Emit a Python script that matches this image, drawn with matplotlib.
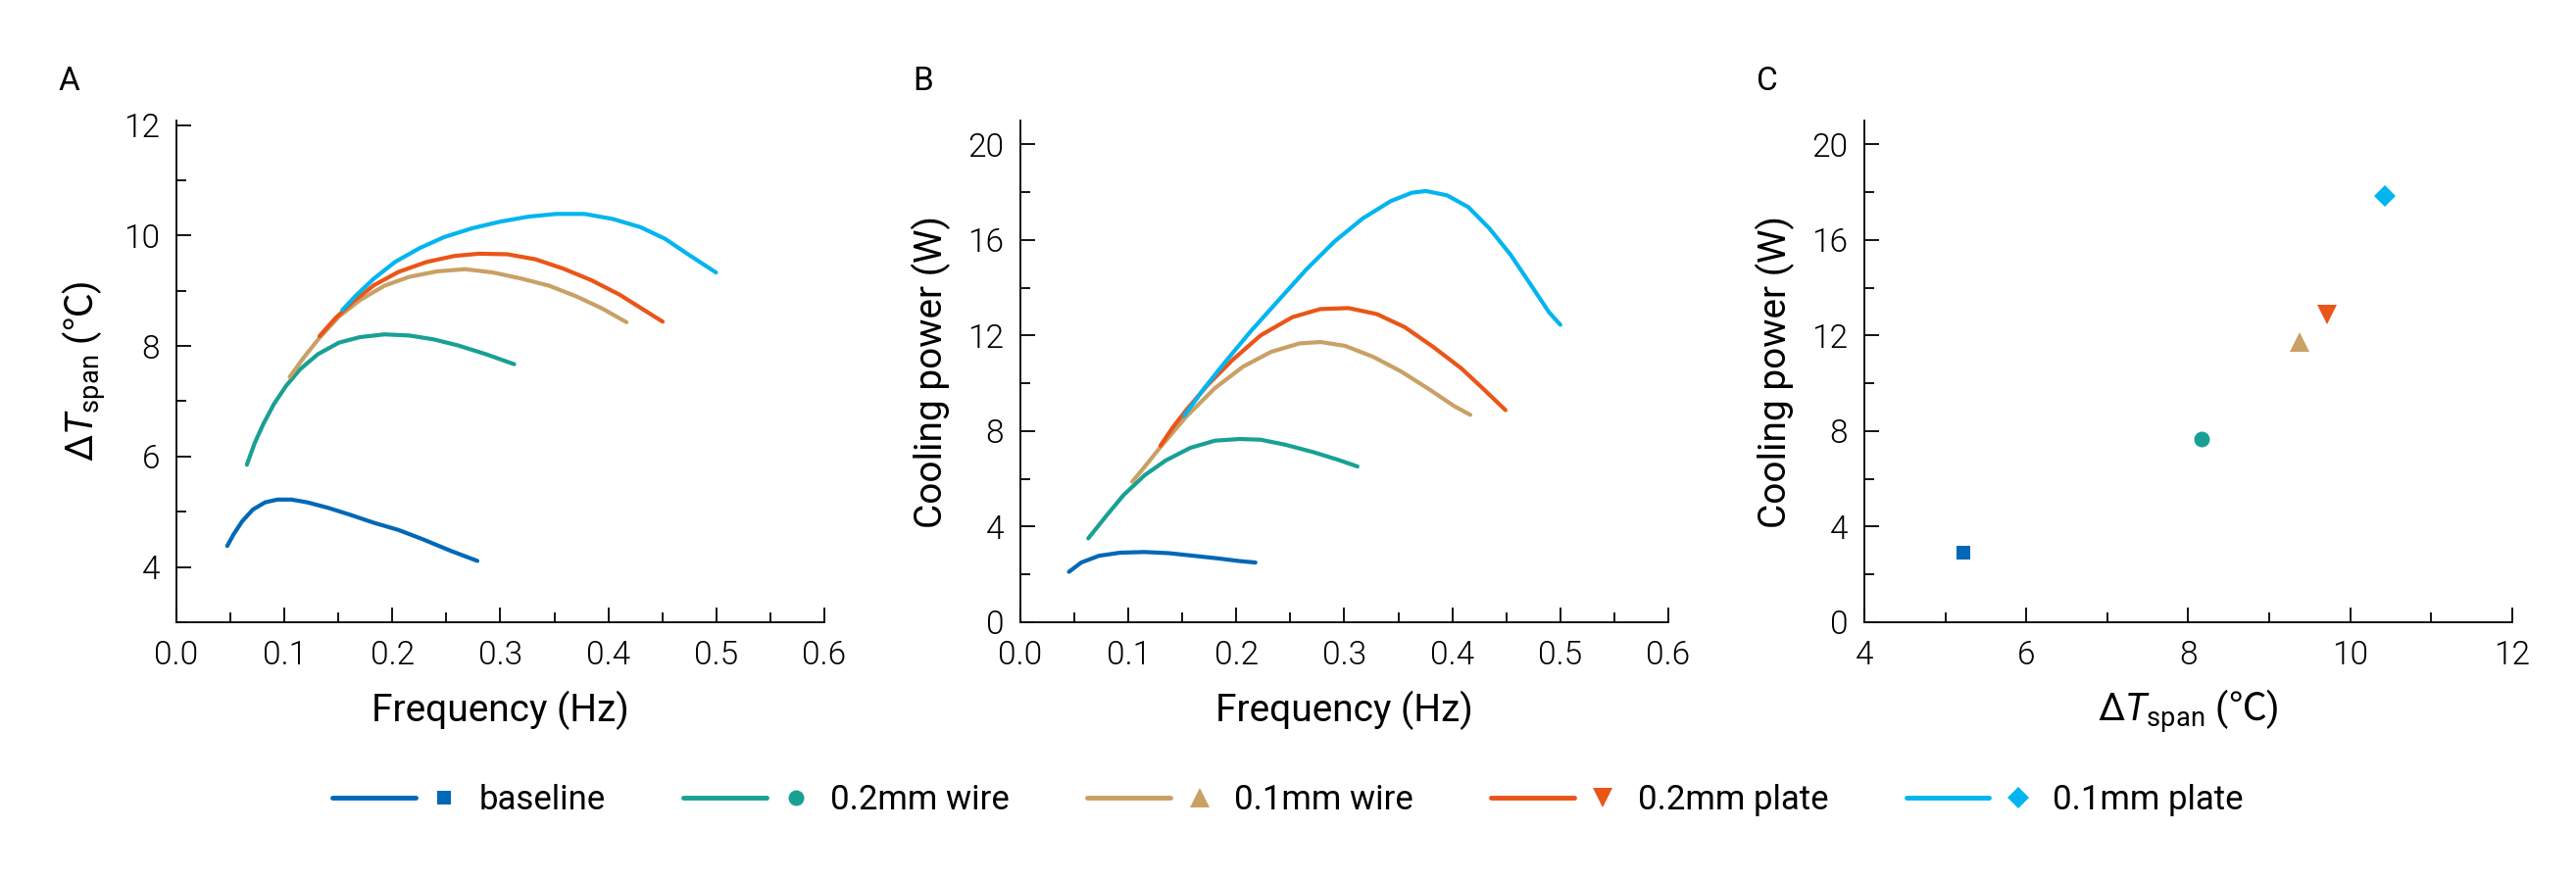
import numpy as np
import matplotlib
matplotlib.use("Agg")
import matplotlib.pyplot as plt
from matplotlib.lines import Line2D
from matplotlib.legend_handler import HandlerBase
from matplotlib.ticker import MultipleLocator

plt.rcParams['font.family'] = ['Roboto', 'DejaVu Sans']
plt.rcParams['mathtext.fontset'] = 'custom'
plt.rcParams['mathtext.rm'] = 'Roboto'
plt.rcParams['mathtext.it'] = 'Roboto:italic'
plt.rcParams['mathtext.sf'] = 'Noto Sans CJK JP'

# series names and colours
names = ['baseline', '0.2mm wire', '0.1mm wire', '0.2mm plate', '0.1mm plate']
colors = ['#0068B7', '#19A094', '#C9A065', '#EA5518', '#02B5EE']
markers = ['s', 'o', '^', 'v', 'D']
msizes = [9.8, 11.5, 14.5, 14.5, 10.8]

# panel A: temperature span vs frequency
freq_a = [
    [0.047, 0.0529, 0.061, 0.0708, 0.0821, 0.0935, 0.1065, 0.1211, 0.1406, 0.1601, 0.1829,
     0.2056, 0.2284, 0.2543, 0.2787],
    [0.0652, 0.0724, 0.0805, 0.0903, 0.1016, 0.1146, 0.1309, 0.1504, 0.1699, 0.1926, 0.2154,
     0.2381, 0.2608, 0.2868, 0.3128],
    [0.1049, 0.1179, 0.1325, 0.1504, 0.1699, 0.1926, 0.2154, 0.2413, 0.2673, 0.2933, 0.3193,
     0.3453, 0.3713, 0.3941, 0.4168],
    [0.1325, 0.1471, 0.1634, 0.1829, 0.2056, 0.2316, 0.2576, 0.2803, 0.3063, 0.3323, 0.3583,
     0.3843, 0.4103, 0.4331, 0.4503],
    [0.1536, 0.1666, 0.1829, 0.2024, 0.2251, 0.2478, 0.2738, 0.2998, 0.3258, 0.3518, 0.3778,
     0.4038, 0.4298, 0.4525, 0.4753, 0.4997],
]
dT_a = [
    [4.38, 4.59, 4.83, 5.04, 5.17, 5.22, 5.22, 5.17, 5.07, 4.95, 4.80, 4.67, 4.50, 4.29, 4.11],
    [5.85, 6.24, 6.59, 6.95, 7.28, 7.58, 7.85, 8.06, 8.16, 8.21, 8.19, 8.12, 8.01, 7.85, 7.67],
    [7.44, 7.79, 8.15, 8.53, 8.83, 9.09, 9.25, 9.35, 9.39, 9.33, 9.22, 9.09, 8.89, 8.68, 8.43],
    [8.18, 8.50, 8.80, 9.10, 9.34, 9.52, 9.63, 9.67, 9.66, 9.57, 9.40, 9.19, 8.93, 8.65, 8.44],
    [8.65, 8.92, 9.22, 9.52, 9.77, 9.97, 10.13, 10.25, 10.34, 10.39, 10.39, 10.30, 10.15, 9.94,
     9.64, 9.33],
]

# panel B: cooling power vs frequency
freq_b = [
    [0.045, 0.0564, 0.0727, 0.0922, 0.115, 0.1378, 0.1607, 0.1835, 0.203, 0.2177],
    [0.0629, 0.0792, 0.0955, 0.115, 0.1346, 0.1574, 0.1802, 0.203, 0.2226, 0.2454, 0.2714,
     0.2942, 0.3122],
    [0.1036, 0.115, 0.1297, 0.1541, 0.1802, 0.2063, 0.2323, 0.2584, 0.2779, 0.3007, 0.3268,
     0.3529, 0.379, 0.4017, 0.4167],
    [0.1297, 0.1411, 0.1541, 0.1737, 0.1965, 0.2226, 0.2519, 0.2779, 0.304, 0.3301, 0.3561,
     0.3822, 0.4083, 0.4278, 0.4493],
    [0.1515, 0.1704, 0.190, 0.2128, 0.2388, 0.2649, 0.291, 0.317, 0.3431, 0.3627, 0.3757,
     0.3952, 0.4148, 0.4343, 0.4539, 0.4734, 0.4897, 0.5001],
]
power_b = [
    [2.11, 2.50, 2.78, 2.91, 2.94, 2.89, 2.78, 2.67, 2.56, 2.50],
    [3.51, 4.43, 5.32, 6.15, 6.77, 7.30, 7.60, 7.67, 7.64, 7.43, 7.12, 6.80, 6.52],
    [5.88, 6.50, 7.33, 8.63, 9.80, 10.70, 11.32, 11.67, 11.73, 11.57, 11.11, 10.49, 9.74,
     9.05, 8.68],
    [7.39, 8.15, 8.91, 9.94, 10.98, 12.01, 12.77, 13.11, 13.15, 12.90, 12.35, 11.53, 10.63,
     9.81, 8.88],
    [8.63, 9.80, 10.91, 12.15, 13.46, 14.77, 15.94, 16.90, 17.63, 17.98, 18.05, 17.87, 17.38,
     16.49, 15.39, 14.08, 12.97, 12.45],
]

# panel C: peak cooling power vs peak temperature span
dT_c = [5.22, 8.16, 9.37, 9.71, 10.43]
power_c = [2.91, 7.68, 11.74, 12.88, 17.85]


class LineMarkerHandler(HandlerBase):
    def create_artists(self, legend, orig_handle, xdescent, ydescent,
                       width, height, fontsize, trans):
        ln, mk = orig_handle
        x0 = -xdescent
        y = (height - ydescent) / 2
        l = Line2D([x0, x0 + 0.64 * width], [y, y], color=ln.get_color(),
                   lw=ln.get_linewidth(), solid_capstyle='round')
        m = Line2D([x0 + 0.865 * width], [y], marker=mk.get_marker(),
                   ms=mk.get_markersize(), color=mk.get_color(), ls='none',
                   markeredgewidth=0)
        l.set_transform(trans)
        m.set_transform(trans)
        return [l, m]


fig = plt.figure(figsize=(26.28, 8.96), dpi=100)
W = 0.2515
bottom, height = 0.2913, 0.5714
ax_a = fig.add_axes([0.0685, bottom, W, height])
ax_b = fig.add_axes([0.3961, bottom, W, height])
ax_c = fig.add_axes([0.7237, bottom, W, height])

for i in range(5):
    ax_a.plot(freq_a[i], dT_a[i], color=colors[i], lw=3, solid_capstyle='round')
    ax_b.plot(freq_b[i], power_b[i], color=colors[i], lw=3, solid_capstyle='round')
    ax_c.plot(dT_c[i], power_c[i], ls='none', marker=markers[i], ms=msizes[i],
              color=colors[i], markeredgewidth=0)

ax_a.set_xlim(0, 0.6)
ax_a.set_ylim(3, 12.08)
ax_b.set_xlim(0, 0.6)
ax_b.set_ylim(0, 21)
ax_c.set_xlim(4, 12)
ax_c.set_ylim(0, 21)

ax_a.xaxis.set_major_locator(MultipleLocator(0.1))
ax_a.xaxis.set_minor_locator(MultipleLocator(0.05))
ax_a.yaxis.set_minor_locator(MultipleLocator(1))
ax_a.set_yticks([4, 6, 8, 10, 12])
ax_b.xaxis.set_major_locator(MultipleLocator(0.1))
ax_b.xaxis.set_minor_locator(MultipleLocator(0.05))
for ax in (ax_b, ax_c):
    ax.yaxis.set_major_locator(MultipleLocator(4))
    ax.yaxis.set_minor_locator(MultipleLocator(2))
ax_c.xaxis.set_major_locator(MultipleLocator(2))
ax_c.xaxis.set_minor_locator(MultipleLocator(1))
ax_a.xaxis.set_major_formatter(plt.FormatStrFormatter('%.1f'))
ax_b.xaxis.set_major_formatter(plt.FormatStrFormatter('%.1f'))

for ax in (ax_a, ax_b, ax_c):
    ax.spines['top'].set_visible(False)
    ax.spines['right'].set_visible(False)
    ax.spines['left'].set_linewidth(1.3)
    ax.spines['bottom'].set_linewidth(1.3)
    ax.tick_params(which='major', direction='in', length=11, width=1.3,
                   labelsize=24)
    ax.tick_params(which='minor', direction='in', length=7.5, width=1.3)
    ax.tick_params(axis='y', which='major', pad=12)
    ax.tick_params(axis='x', which='major', pad=13)
    for lab in ax.get_xticklabels() + ax.get_yticklabels():
        lab.set_fontweight(300)
        lab.set_color('black')

dT_label = r'$\Delta\mathit{T}_{\mathrm{span}}$ ($\mathsf{℃}$)'
ax_a.set_xlabel('Frequency (Hz)', fontsize=28, labelpad=14)
ax_a.set_ylabel(dT_label, fontsize=28, labelpad=12)
ax_b.set_xlabel('Frequency (Hz)', fontsize=28, labelpad=14)
ax_b.set_ylabel('Cooling power (W)', fontsize=28, labelpad=12)
ax_c.set_xlabel(dT_label, fontsize=28, labelpad=12)
ax_c.set_ylabel('Cooling power (W)', fontsize=28, labelpad=12)

for x, letter in zip([0.0228, 0.3543, 0.6819], ['A', 'B', 'C']):
    fig.text(x, 0.8968, letter, fontsize=24, va='baseline', ha='left')

handles = [(Line2D([], [], color=colors[i], lw=3.5),
            Line2D([], [], color=colors[i], marker=markers[i], ms=msizes[i]))
           for i in range(5)]
fig.legend(handles, names, handler_map={tuple: LineMarkerHandler()},
           loc='center', bbox_to_anchor=(0.5, 0.089), ncol=5, frameon=False,
           fontsize=25, handlelength=3.8, handletextpad=0.5, columnspacing=2.3)

plt.savefig('out.png', dpi=100)
